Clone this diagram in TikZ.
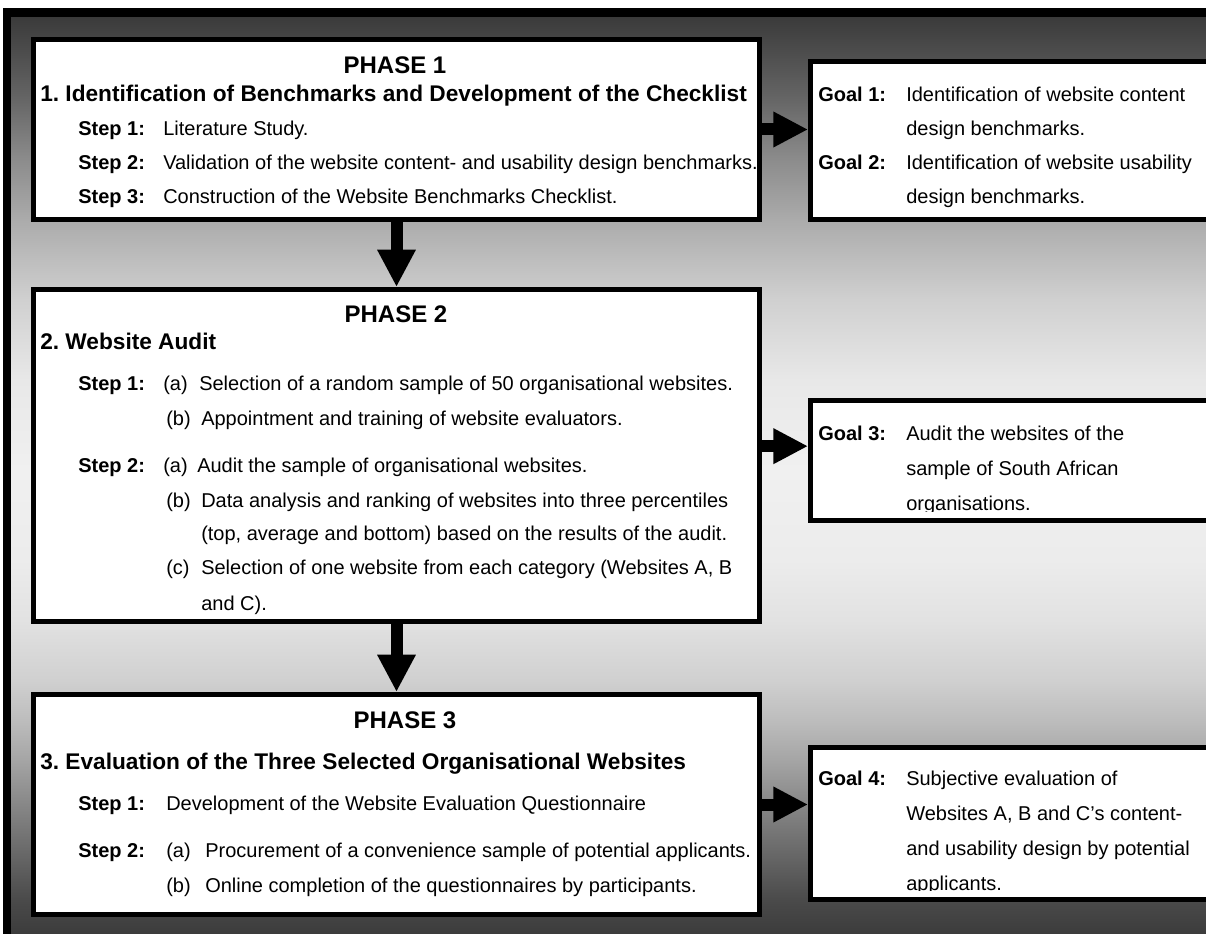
\documentclass[tikz,border=0pt]{standalone}
\usepackage{fontspec}
\setmainfont{Liberation Sans}
\usetikzlibrary{arrows.meta}

% dark-light-dark fade behind the three phases
\pgfdeclareverticalshading{backfade}{100bp}{
  rgb(0bp)=(.22,.22,.22); rgb(25bp)=(.22,.22,.22);
  rgb(26.37bp)=(.235,.235,.235); rgb(28.17bp)=(.29,.29,.29);
  rgb(30.81bp)=(.416,.416,.416); rgb(33.45bp)=(.541,.541,.541);
  rgb(35.56bp)=(.647,.647,.647); rgb(37.67bp)=(.741,.741,.741);
  rgb(39.78bp)=(.816,.816,.816); rgb(42.94bp)=(.886,.886,.886);
  rgb(46.11bp)=(.925,.925,.925); rgb(50.86bp)=(.941,.941,.941);
  rgb(55.61bp)=(.91,.91,.91); rgb(59.83bp)=(.816,.816,.816);
  rgb(64.05bp)=(.671,.671,.671); rgb(67.22bp)=(.549,.549,.549);
  rgb(70.39bp)=(.4,.4,.4); rgb(74.61bp)=(.235,.235,.235);
  rgb(75bp)=(.22,.22,.22); rgb(100bp)=(.22,.22,.22)}

\begin{document}
\frenchspacing
\begin{tikzpicture}[x=.75pt,y=-.75pt,
        phasebox/.style={draw=black,line width=3.75pt,fill=white,inner sep=0pt},
        txt/.style={anchor=base west,inner sep=0pt,font=\fontsize{15}{18}\selectfont},
        lab/.style={txt,font=\bfseries\fontsize{15}{18}\selectfont},
        head/.style={anchor=base west,inner sep=0pt,
          font=\bfseries\fontsize{17}{20}\selectfont},
        phasetitle/.style={anchor=base,inner sep=0pt,
          font=\bfseries\fontsize{18}{22}\selectfont},
        flow/.style={line width=9pt,-{Triangle[length=26pt,width=25pt]}},
        drop/.style={line width=9pt,-{Triangle[length=28pt,width=27pt]}}]
        \useasboundingbox (0,0) rectangle (1206,934);
        \clip (0,0) rectangle (1206,934);

        % Outer frame with the shaded ground.
        \shadedraw[shading=backfade,draw=black,line width=6.4pt]
          (7,12.5) rectangle (1240,960);

        % Phase 1 and its goals.
        \node[phasebox,minimum width=544.5pt,minimum height=135pt]
          (ph1) at (396.5,129.5) {};
        \node[phasetitle] (ph1title) at (395,74) {PHASE 1};
        \node[head] (ph1head) at (40,102)
          {1. Identification of Benchmarks and Development of the Checklist};
        \node[lab] (ph1s1) at (78,136) {Step 1:};
        \node[txt] (ph1t1) at (163,136) {Literature Study.};
        \node[lab] (ph1s2) at (78,170) {Step 2:};
        \node[txt] (ph1t2) at (163,170)
          {Validation of the website content- and usability design benchmarks.};
        \node[lab] (ph1s3) at (78,204) {Step 3:};
        \node[txt] (ph1t3) at (163,204)
          {Construction of the Website Benchmarks Checklist.};

        \node[phasebox,minimum width=314.6pt,minimum height=118.5pt]
          (goal12) at (1020.25,140.5) {};
        \node[lab] (g1lab) at (818,102) {Goal 1:};
        \node[txt] (g1t1) at (906,102) {Identification of website content};
        \node[txt] (g1t2) at (906,136) {design benchmarks.};
        \node[lab] (g2lab) at (818,170) {Goal 2:};
        \node[txt] (g2t1) at (906,170) {Identification of website usability};
        \node[txt] (g2t2) at (906,204) {design benchmarks.};

        % Phase 2: the audit.
        \node[phasebox,minimum width=544.5pt,minimum height=249pt]
          (ph2) at (396.5,455.5) {};
        \node[phasetitle] (ph2title) at (396,322) {PHASE 2};
        \node[head] (ph2head) at (40,349) {2. Website Audit};
        \node[lab] (ph2s1) at (78,390) {Step 1:};
        \node[txt] (ph2s1a) at (163,390) {(a)};
        \node[txt] (ph2t1a) at (199,390)
          {Selection of a random sample of 50 organisational websites.};
        \node[txt] (ph2s1b) at (166,425) {(b)};
        \node[txt] (ph2t1b) at (201,425)
          {Appointment and training of website evaluators.};
        \node[lab] (ph2s2) at (78,472) {Step 2:};
        \node[txt] (ph2s2a) at (163,472) {(a)};
        \node[txt] (ph2t2a) at (197,472)
          {Audit the sample of organisational websites.};
        \node[txt] (ph2s2b) at (166,507) {(b)};
        \node[txt] (ph2t2b) at (201,507)
          {Data analysis and ranking of websites into three percentiles};
        \node[txt] (ph2t2bb) at (201,540)
          {(top, average and bottom) based on the results of the audit.};
        \node[txt] (ph2s2c) at (166,574) {(c)};
        \node[txt] (ph2t2c) at (201,574)
          {Selection of one website from each category (Websites A, B};
        \node[txt] (ph2t2cc) at (201,610) {and C).};

        \node[phasebox,minimum width=314.6pt,minimum height=90pt]
          (goal3) at (1020.25,460.5) {};
        \begin{scope}
          \clip (goal3.north west) rectangle ([yshift=8.5pt]goal3.south east);
          \node[lab] (g3lab) at (818,440) {Goal 3:};
          \node[txt] (g3t1) at (906,440) {Audit the websites of the};
          \node[txt] (g3t2) at (906,475) {sample of South African};
          \node[txt] (g3t3) at (906,510) {organisations.};
        \end{scope}

        % Phase 3: the evaluation.
        \node[phasebox,minimum width=544.5pt,minimum height=165pt]
          (ph3) at (396.5,804.5) {};
        \node[phasetitle] (ph3title) at (405,728) {PHASE 3};
        \node[head] (ph3head) at (40,769)
          {3. Evaluation of the Three Selected Organisational Websites};
        \node[lab] (ph3s1) at (78,810) {Step 1:};
        \node[txt] (ph3t1) at (166,810)
          {Development of the Website Evaluation Questionnaire};
        \node[lab] (ph3s2) at (78,857) {Step 2:};
        \node[txt] (ph3s2a) at (166,857) {(a)};
        \node[txt] (ph3t2a) at (205,857)
          {Procurement of a convenience sample of potential applicants.};
        \node[txt] (ph3s2b) at (166,892) {(b)};
        \node[txt] (ph3t2b) at (205,892)
          {Online completion of the questionnaires by participants.};

        \node[phasebox,minimum width=314.6pt,minimum height=114pt]
          (goal4) at (1020.25,823.5) {};
        \begin{scope}
          \clip (goal4.north west) rectangle ([yshift=8.5pt]goal4.south east);
          \node[lab] (g4lab) at (818,785) {Goal 4:};
          \node[txt] (g4t1) at (906,785) {Subjective evaluation of};
          \node[txt] (g4t2) at (906,820) {Websites A, B and C's content-};
          \node[txt] (g4t3) at (906,855) {and usability design by potential};
          \node[txt] (g4t4) at (906,890) {applicants.};
        \end{scope}

        % Block arrows between phases and towards the goals.
        \draw[drop] (ph1.south) -- (ph2.north);
        \draw[drop] (ph2.south) -- (ph3.north);
        \draw[flow] (ph1.east) -- (ph1.east -| goal12.west);
        \draw[flow] ([yshift=7pt]ph2.east) -- ([yshift=7pt]ph2.east -| goal3.west);
        \draw[flow] (ph3.east) -- (ph3.east -| goal4.west);
      \end{tikzpicture}
\end{document}
